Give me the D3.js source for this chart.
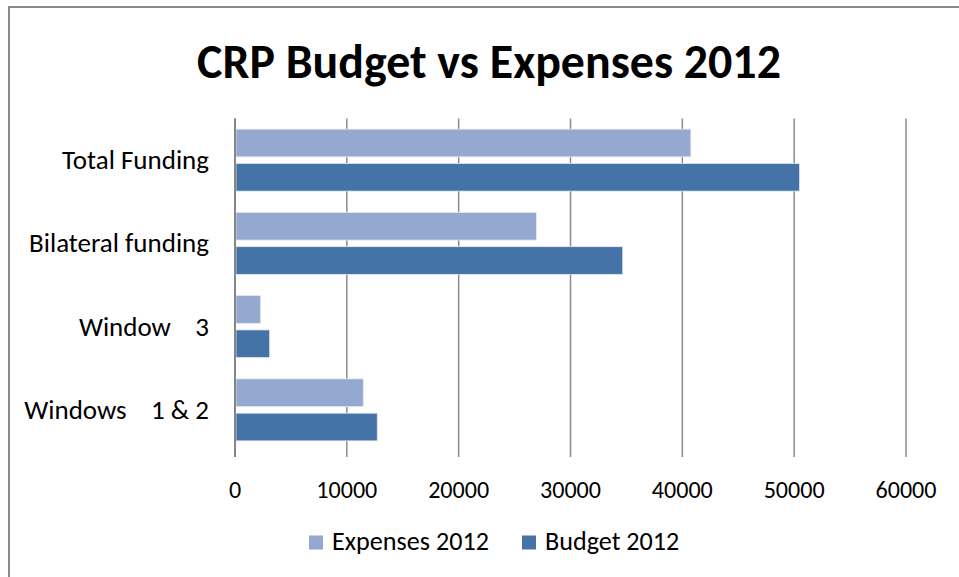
<!DOCTYPE html>
<html>
<head>
<meta charset="utf-8">
<script src="https://cdn.jsdelivr.net/npm/d3@7/dist/d3.min.js"></script>
<style>
  html, body { margin: 0; padding: 0; background: #fff; }
  svg { display: block; }
  text { font-family: Carlito, Lato, "Open Sans", sans-serif; fill: #000; white-space: pre; }
</style>
</head>
<body>
<svg id="chart" width="959" height="577"></svg>
<script>
// ---- data ----
const categories = ["Total Funding", "Bilateral funding", "Window    3", "Windows    1 & 2"];
const seriesNames = ["Expenses 2012", "Budget 2012"];
const expenses2012 = [40760, 26950, 2290, 11470];
const budget2012 = [50480, 34670, 3100, 12720];
const xTicks = [0, 10000, 20000, 30000, 40000, 50000, 60000];
const chartTitle = "CRP Budget vs Expenses 2012";

// ---- layout ----
const W = 959, H = 577;
const plot = { left: 235, right: 906, top: 118.5, bottom: 451.5 };
const colors = ["#95a9d0", "#4673a7"];

const svg = d3.select("#chart");

// chart border
svg.append("rect")
  .attr("x", 9).attr("y", 7)
  .attr("width", W + 20).attr("height", H + 20)
  .attr("fill", "#fff").attr("stroke", "#8a8a8a").attr("stroke-width", 2);

const x = d3.scaleLinear().domain([0, 60000]).range([plot.left, plot.right]);
const y = d3.scaleBand().domain(categories).range([plot.top, plot.bottom]).padding(0);
const yInner = d3.scaleBand().domain(seriesNames).range([0, y.bandwidth()])
  .paddingInner(0.192).paddingOuter(0.31);

// scale a selection's font-size so that one reference node has the target width
function fitTo(sel, refNode, target) {
  const base = parseFloat(refNode.getAttribute("font-size"));
  const len = refNode.getComputedTextLength();
  if (len > 0) sel.attr("font-size", (base * target / len).toFixed(2));
}

// gridlines (with ticks extending below)
svg.append("g").selectAll("line").data(xTicks).join("line")
  .attr("x1", d => x(d)).attr("x2", d => x(d))
  .attr("y1", plot.top).attr("y2", plot.bottom + 5.5)
  .attr("stroke", "#8c8c8c").attr("stroke-width", 1.5);

// bars
const rows = categories.map((c, i) => ({ cat: c, vals: [expenses2012[i], budget2012[i]] }));
const g = svg.append("g");
rows.forEach(r => {
  r.vals.forEach((v, j) => {
    g.append("rect")
      .attr("x", x(0) + 1)
      .attr("y", y(r.cat) + yInner(seriesNames[j]))
      .attr("width", x(v) - x(0) - 1)
      .attr("height", yInner.bandwidth())
      .attr("fill", colors[j])
      .attr("stroke", "#e3e8f2").attr("stroke-width", 0.8);
  });
});

// vertical axis line
svg.append("line")
  .attr("x1", x(0)).attr("x2", x(0))
  .attr("y1", plot.top).attr("y2", plot.bottom + 5.5)
  .attr("stroke", "#868686").attr("stroke-width", 2);

// x tick labels
const tl = svg.append("g").selectAll("text").data(xTicks).join("text")
  .attr("x", d => x(d)).attr("y", 498)
  .attr("text-anchor", "middle")
  .attr("font-size", 22)
  .text(d => String(d));
fitTo(tl, tl.filter(d => d === 10000).node(), 61);

// category labels
const cl = svg.append("g").selectAll("text").data(categories).join("text")
  .attr("x", 209)
  .attr("y", d => y(d) + y.bandwidth() / 2 + 9)
  .attr("text-anchor", "end")
  .attr("font-size", 24)
  .text(d => d);
fitTo(cl, cl.filter(d => d === "Total Funding").node(), 147);

// title
const t = svg.append("text")
  .attr("x", 489).attr("y", 78)
  .attr("text-anchor", "middle")
  .attr("font-weight", "bold")
  .attr("font-size", 44)
  .text(chartTitle);
fitTo(t, t.node(), 584);

// legend
const legX = [309, 522];
const lg = svg.append("g");
seriesNames.forEach((s, i) => {
  lg.append("rect")
    .attr("x", legX[i]).attr("y", 535.5)
    .attr("width", 14).attr("height", 14)
    .attr("fill", colors[i]);
});
const lt = lg.selectAll("text").data(seriesNames).join("text")
  .attr("x", (d, i) => legX[i] + 23).attr("y", 550)
  .attr("font-size", 22)
  .text(d => d);
fitTo(lt, lt.filter(d => d === "Expenses 2012").node(), 157);
</script>
</body>
</html>
